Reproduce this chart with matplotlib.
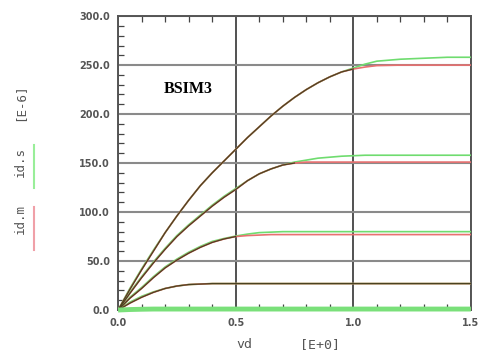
import matplotlib
matplotlib.use("Agg")
import matplotlib.pyplot as plt
from matplotlib.lines import Line2D
import numpy as np

# drain voltage grid
vd = [0.0, 0.05, 0.1, 0.15, 0.2, 0.25, 0.3, 0.35, 0.4, 0.45, 0.5, 0.55, 0.6, 0.65, 0.7, 0.75,
      0.8, 0.85, 0.9, 0.95, 1.0, 1.05, 1.1, 1.2, 1.3, 1.4, 1.5]

# measured id (uA), one list per gate voltage
id_m = [
    [0, 21, 41, 60, 79, 96, 112, 127, 140, 152, 164, 176, 187, 198, 208, 217, 225, 232, 238, 243, 246, 248, 249.5, 250, 250, 250, 250],
    [0, 17, 33, 48, 62, 75, 86, 96, 106, 115, 123, 132, 139, 144, 148, 150, 151, 151, 151, 151, 151, 151, 151, 151, 151, 151, 151],
    [0, 12, 22, 33, 43, 51, 58, 64, 69, 72.5, 75, 76, 76.5, 77, 77, 77, 77, 77, 77, 77, 77, 77, 77, 77, 77, 77, 77],
    [0, 7, 13, 18, 22, 24.5, 26, 26.5, 27, 27, 27, 27, 27, 27, 27, 27, 27, 27, 27, 27, 27, 27, 27, 27, 27, 27, 27],
    [0, 0.5, 0.8, 1, 1, 1, 1, 1, 1, 1, 1, 1, 1, 1, 1, 1, 1, 1, 1, 1, 1, 1, 1, 1, 1, 1, 1],
]
# simulated id (uA)
id_s = [
    [0, 22, 42, 61, 79, 96, 112, 127, 140, 152, 164, 176, 187, 198, 208, 217, 225, 232, 238, 243, 247, 251, 254, 256, 257, 258, 258],
    [0, 18, 34, 49, 63, 76, 87, 97, 107, 116, 124, 132, 139, 144, 148, 151, 153, 155, 156, 157, 157.5, 158, 158, 158, 158, 158, 158],
    [0, 13, 23, 34, 44, 52, 59, 65, 70, 73, 75.5, 77.5, 79, 79.5, 80, 80, 80, 80, 80, 80, 80, 80, 80, 80, 80, 80, 80],
    [0, 8, 14, 18.5, 22, 24.5, 26, 26.5, 27, 27, 27, 27, 27, 27, 27, 27, 27, 27, 27, 27, 27, 27, 27, 27, 27, 27, 27],
    [0, 0.5, 0.8, 1, 1, 1, 1, 1, 1, 1, 1, 1, 1, 1, 1, 1, 1, 1, 1, 1, 1, 1, 1, 1, 1, 1, 1],
]

yticks = [0, 50, 100, 150, 200, 250, 300]
ytick_labels = ["0.0", "50.0", "100.0", "150.0", "200.0", "250.0", "300.0"]
xticks = [0.0, 0.5, 1.0, 1.5]
xtick_labels = ["0.0", "0.5", "1.0", "1.5"]

fig = plt.figure(figsize=(4.82, 3.58), dpi=100)
ax = fig.add_axes([0.245, 0.134, 0.732, 0.821])

x = np.array(vd)
last = len(id_m) - 1
for i, (m, s) in enumerate(zip(id_m, id_s)):
    m = np.array(m, dtype=float)
    s = np.array(s, dtype=float)
    if i == last:
        # lowest gate bias: thick green trace hides the measured one
        ax.plot(x, m, color="#e87070", lw=1.2, zorder=3)
        ax.plot(x, s, color="#7ae07a", lw=3.5, zorder=5, clip_on=False, solid_capstyle="butt")
        continue
    ax.plot(x, s, color="#6fdc6f", lw=1.2, zorder=3)
    ax.plot(x, m, color="#e87070", lw=1.2, zorder=3)
    # where both coincide the overlap reads dark olive
    close = np.abs(m - s) < 1.2
    ax.plot(x, np.where(close, m, np.nan), color="#4a4220", lw=0.9, zorder=4)

ax.set_xlim(0, 1.5)
ax.set_ylim(0, 300)
ax.set_xticks(xticks)
ax.set_xticklabels(xtick_labels)
ax.set_yticks(yticks)
ax.set_yticklabels(ytick_labels)
ax.set_xticks(np.arange(0, 1.51, 0.1), minor=True)
ax.set_yticks(np.arange(0, 301, 10), minor=True)
ax.tick_params(which="both", direction="in", top=True, color="#444")
ax.tick_params(which="major", length=0, labelsize=7, labelcolor="#555", pad=6)
ax.tick_params(which="minor", length=4, width=0.9)
for lab in ax.get_xticklabels() + ax.get_yticklabels():
    lab.set_fontweight("bold")

ax.grid(True, axis="y", which="major", color="#8a8a8a", lw=1.5)
ax.grid(True, axis="x", which="major", color="#333", lw=1.2)
ax.set_axisbelow(True)
for sp in ax.spines.values():
    sp.set_color("#555")
    sp.set_linewidth(1.4)

ax.text(0.128, 0.74, "BSIM3", transform=ax.transAxes, fontsize=11.5, fontweight="bold",
        family="Liberation Serif")

# x label pieces
fig.text(244 / 482, 1 - 345 / 358, "vd", ha="center", va="center",
         fontsize=9.5, color="#555", family="DejaVu Sans Mono")
fig.text(320 / 482, 1 - 345 / 358, "[E+0]", ha="center", va="center",
         fontsize=9.5, color="#555", family="DejaVu Sans Mono")

# rotated y label with legend strokes
fig.text(20 / 482, 1 - 102 / 358, "[E-6]", rotation=90, ha="center", va="center",
         fontsize=9, color="#555", family="DejaVu Sans Mono")
fig.text(20 / 482, 1 - 162 / 358, "id.s", rotation=90, ha="center", va="center",
         fontsize=9, color="#555", family="DejaVu Sans Mono")
fig.text(20 / 482, 1 - 219 / 358, "id.m", rotation=90, ha="center", va="center",
         fontsize=9, color="#555", family="DejaVu Sans Mono")
fig.add_artist(Line2D([34 / 482, 34 / 482], [1 - 145 / 358, 1 - 188 / 358], color="#99ee99", lw=1.5))
fig.add_artist(Line2D([34 / 482, 34 / 482], [1 - 207 / 358, 1 - 250 / 358], color="#f0a0a8", lw=1.5))

fig.savefig("out.png", dpi=100)
